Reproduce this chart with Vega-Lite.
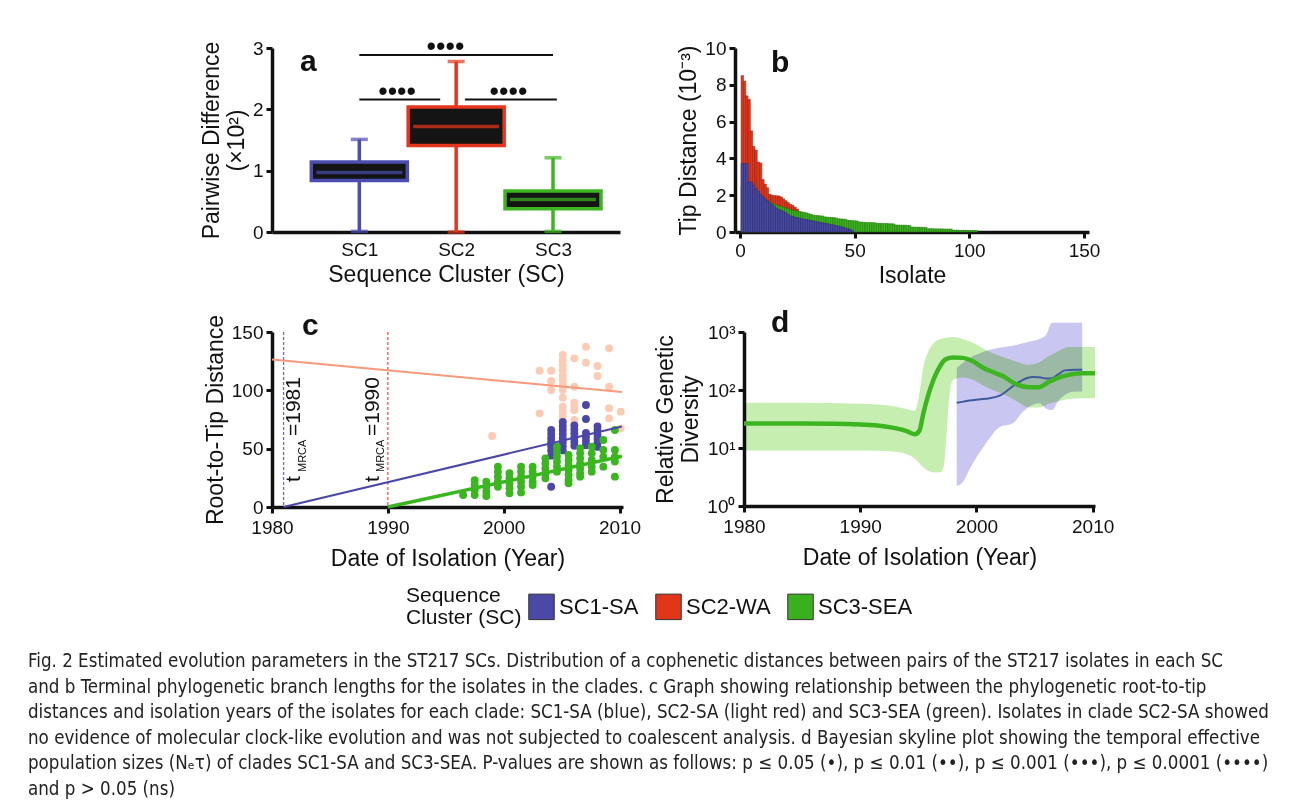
{
  "$schema": "https://vega.github.io/schema/vega-lite/v6.json",
  "background": "white",
  "padding": {"left": 28, "top": 33, "right": 5, "bottom": 5},
  "config": {
    "font": "Liberation Sans",
    "view": {"stroke": null},
    "axis": {"grid": false, "labelFlush": false, "domainColor": "#111", "domainWidth": 3.5, "tickColor": "#111", "tickWidth": 3, "tickSize": 6, "labelFont": "Liberation Sans", "labelFontSize": 19, "labelColor": "#111", "labelPadding": 3, "titleFont": "Liberation Sans", "titleFontSize": 23, "titleFontWeight": "normal", "titleColor": "#111", "titlePadding": 4},
    "title": {"font": "Liberation Sans", "fontWeight": "bold", "fontSize": 30, "color": "#111", "anchor": "start", "frame": "group", "offset": 0, "baseline": "alphabetic"}
  },
  "title": {
    "text": [
      "Fig. 2 Estimated evolution parameters in the ST217 SCs. Distribution of a cophenetic distances between pairs of the ST217 isolates in each SC",
      "and b Terminal phylogenetic branch lengths for the isolates in the clades. c Graph showing relationship between the phylogenetic root-to-tip",
      "distances and isolation years of the isolates for each clade: SC1-SA (blue), SC2-SA (light red) and SC3-SEA (green). Isolates in clade SC2-SA showed",
      "no evidence of molecular clock-like evolution and was not subjected to coalescent analysis. d Bayesian skyline plot showing the temporal effective",
      "population sizes (Nₑτ) of clades SC1-SA and SC3-SEA. P-values are shown as follows: p ≤ 0.05 (•), p ≤ 0.01 (••), p ≤ 0.001 (•••), p ≤ 0.0001 (••••)",
      "and p > 0.05 (ns)"
    ],
    "orient": "bottom", "anchor": "start", "frame": "group", "offset": 24, "dx": -244,
    "font": "Liberation Sans Narrow, DejaVu Sans Condensed, Liberation Sans", "fontSize": 18.6, "fontWeight": "normal", "color": "#222", "lineHeight": 25.6, "baseline": "top"
  },
  "datasets": {
    "boxes": [
      {"c": "SC1", "idx": 1, "min": 0.01, "q1": 0.84, "median": 0.97, "q3": 1.14, "max": 1.51},
      {"c": "SC2", "idx": 2, "min": 0.0, "q1": 1.41, "median": 1.72, "q3": 2.04, "max": 2.78},
      {"c": "SC3", "idx": 3, "min": 0.01, "q1": 0.38, "median": 0.53, "q3": 0.67, "max": 1.21}
    ],
    "sig": [
      {"from": 1, "to": 3, "lvl": 2.885, "mid": 1.89},
      {"from": 1, "to": 1.835, "lvl": 2.16, "mid": 1.39},
      {"from": 2.09, "to": 3.04, "lvl": 2.16, "mid": 2.54}
    ],
    "tip": [
      {"c":"SC2","i":1,"d":8.5},{"c":"SC2","i":2,"d":8.2},{"c":"SC2","i":3,"d":7.4},{"c":"SC2","i":4,"d":7.2},{"c":"SC2","i":5,"d":5.5},{"c":"SC2","i":6,"d":4.65},{"c":"SC2","i":7,"d":4.45},{"c":"SC2","i":8,"d":3.8},{"c":"SC2","i":9,"d":3.75},{"c":"SC2","i":10,"d":2.85},
      {"c":"SC2","i":11,"d":2.6},{"c":"SC2","i":12,"d":2.4},{"c":"SC2","i":13,"d":2.05},{"c":"SC2","i":14,"d":2.0},{"c":"SC2","i":15,"d":1.98},{"c":"SC2","i":16,"d":1.97},{"c":"SC2","i":17,"d":1.96},{"c":"SC2","i":18,"d":1.9},{"c":"SC2","i":19,"d":1.8},{"c":"SC2","i":20,"d":1.7},
      {"c":"SC2","i":21,"d":1.6},{"c":"SC2","i":22,"d":1.5},{"c":"SC2","i":23,"d":1.45},{"c":"SC2","i":24,"d":1.35},{"c":"SC2","i":25,"d":1.25},{"c":"SC2","i":26,"d":1.1},
      {"c":"SC3","i":1,"d":2.5},{"c":"SC3","i":2,"d":2.3},{"c":"SC3","i":3,"d":2.15},{"c":"SC3","i":4,"d":2.0},{"c":"SC3","i":5,"d":1.95},{"c":"SC3","i":6,"d":1.9},{"c":"SC3","i":7,"d":1.85},{"c":"SC3","i":8,"d":1.8},{"c":"SC3","i":9,"d":1.78},{"c":"SC3","i":10,"d":1.75},
      {"c":"SC3","i":11,"d":1.72},{"c":"SC3","i":12,"d":1.69},{"c":"SC3","i":13,"d":1.62},{"c":"SC3","i":14,"d":1.56},{"c":"SC3","i":15,"d":1.5},{"c":"SC3","i":16,"d":1.46},{"c":"SC3","i":17,"d":1.42},{"c":"SC3","i":18,"d":1.38},{"c":"SC3","i":19,"d":1.34},{"c":"SC3","i":20,"d":1.3},
      {"c":"SC3","i":21,"d":1.25},{"c":"SC3","i":22,"d":1.21},{"c":"SC3","i":23,"d":1.18},{"c":"SC3","i":24,"d":1.16},{"c":"SC3","i":25,"d":1.14},{"c":"SC3","i":26,"d":1.11},{"c":"SC3","i":27,"d":1.09},{"c":"SC3","i":28,"d":1.07},{"c":"SC3","i":29,"d":1.04},{"c":"SC3","i":30,"d":0.99},
      {"c":"SC3","i":31,"d":0.96},{"c":"SC3","i":32,"d":0.92},{"c":"SC3","i":33,"d":0.9},{"c":"SC3","i":34,"d":0.89},{"c":"SC3","i":35,"d":0.88},{"c":"SC3","i":36,"d":0.87},{"c":"SC3","i":37,"d":0.82},{"c":"SC3","i":38,"d":0.81},{"c":"SC3","i":39,"d":0.8},{"c":"SC3","i":40,"d":0.79},
      {"c":"SC3","i":41,"d":0.78},{"c":"SC3","i":42,"d":0.76},{"c":"SC3","i":43,"d":0.72},{"c":"SC3","i":44,"d":0.71},{"c":"SC3","i":45,"d":0.7},{"c":"SC3","i":46,"d":0.69},{"c":"SC3","i":47,"d":0.64},{"c":"SC3","i":48,"d":0.63},{"c":"SC3","i":49,"d":0.62},{"c":"SC3","i":50,"d":0.61},
      {"c":"SC3","i":51,"d":0.6},{"c":"SC3","i":52,"d":0.55},{"c":"SC3","i":53,"d":0.54},{"c":"SC3","i":54,"d":0.53},{"c":"SC3","i":55,"d":0.52},{"c":"SC3","i":56,"d":0.52},{"c":"SC3","i":57,"d":0.51},{"c":"SC3","i":58,"d":0.51},{"c":"SC3","i":59,"d":0.5},{"c":"SC3","i":60,"d":0.47},
      {"c":"SC3","i":61,"d":0.47},{"c":"SC3","i":62,"d":0.46},{"c":"SC3","i":63,"d":0.46},{"c":"SC3","i":64,"d":0.46},{"c":"SC3","i":65,"d":0.45},{"c":"SC3","i":66,"d":0.45},{"c":"SC3","i":67,"d":0.44},{"c":"SC3","i":68,"d":0.38},{"c":"SC3","i":69,"d":0.38},{"c":"SC3","i":70,"d":0.37},
      {"c":"SC3","i":71,"d":0.37},{"c":"SC3","i":72,"d":0.37},{"c":"SC3","i":73,"d":0.36},{"c":"SC3","i":74,"d":0.36},{"c":"SC3","i":75,"d":0.27},{"c":"SC3","i":76,"d":0.27},{"c":"SC3","i":77,"d":0.26},{"c":"SC3","i":78,"d":0.26},{"c":"SC3","i":79,"d":0.26},{"c":"SC3","i":80,"d":0.25},
      {"c":"SC3","i":81,"d":0.25},{"c":"SC3","i":82,"d":0.18},{"c":"SC3","i":83,"d":0.18},{"c":"SC3","i":84,"d":0.18},{"c":"SC3","i":85,"d":0.17},{"c":"SC3","i":86,"d":0.17},{"c":"SC3","i":87,"d":0.17},{"c":"SC3","i":88,"d":0.17},{"c":"SC3","i":89,"d":0.16},{"c":"SC3","i":90,"d":0.16},
      {"c":"SC3","i":91,"d":0.16},{"c":"SC3","i":92,"d":0.16},{"c":"SC3","i":93,"d":0.1},{"c":"SC3","i":94,"d":0.1},{"c":"SC3","i":95,"d":0.1},{"c":"SC3","i":96,"d":0.09},{"c":"SC3","i":97,"d":0.09},{"c":"SC3","i":98,"d":0.09},{"c":"SC3","i":99,"d":0.09},{"c":"SC3","i":100,"d":0.08},
      {"c":"SC3","i":101,"d":0.08},{"c":"SC3","i":102,"d":0.08},{"c":"SC3","i":103,"d":0.08},
      {"c":"SC1","i":1,"d":3.72},{"c":"SC1","i":2,"d":3.72},{"c":"SC1","i":3,"d":3.72},{"c":"SC1","i":4,"d":2.72},{"c":"SC1","i":5,"d":2.72},{"c":"SC1","i":6,"d":2.55},{"c":"SC1","i":7,"d":2.35},{"c":"SC1","i":8,"d":2.22},{"c":"SC1","i":9,"d":2.05},{"c":"SC1","i":10,"d":1.92},
      {"c":"SC1","i":11,"d":1.8},{"c":"SC1","i":12,"d":1.7},{"c":"SC1","i":13,"d":1.6},{"c":"SC1","i":14,"d":1.5},{"c":"SC1","i":15,"d":1.4},{"c":"SC1","i":16,"d":1.3},{"c":"SC1","i":17,"d":1.22},{"c":"SC1","i":18,"d":1.18},{"c":"SC1","i":19,"d":1.12},{"c":"SC1","i":20,"d":1.05},
      {"c":"SC1","i":21,"d":0.95},{"c":"SC1","i":22,"d":0.88},{"c":"SC1","i":23,"d":0.85},{"c":"SC1","i":24,"d":0.8},{"c":"SC1","i":25,"d":0.78},{"c":"SC1","i":26,"d":0.75},{"c":"SC1","i":27,"d":0.72},{"c":"SC1","i":28,"d":0.7},{"c":"SC1","i":29,"d":0.68},{"c":"SC1","i":30,"d":0.65},
      {"c":"SC1","i":31,"d":0.62},{"c":"SC1","i":32,"d":0.6},{"c":"SC1","i":33,"d":0.58},{"c":"SC1","i":34,"d":0.55},{"c":"SC1","i":35,"d":0.53},{"c":"SC1","i":36,"d":0.5},{"c":"SC1","i":37,"d":0.48},{"c":"SC1","i":38,"d":0.45},{"c":"SC1","i":39,"d":0.43},{"c":"SC1","i":40,"d":0.4},
      {"c":"SC1","i":41,"d":0.38},{"c":"SC1","i":42,"d":0.35},{"c":"SC1","i":43,"d":0.32},{"c":"SC1","i":44,"d":0.3},{"c":"SC1","i":45,"d":0.27},{"c":"SC1","i":46,"d":0.22},{"c":"SC1","i":47,"d":0.18},{"c":"SC1","i":48,"d":0.15},{"c":"SC1","i":49,"d":0.1}
    ],
    "rtt": [
      {"c":"SC2","yr":1999.0,"v":60.9},{"c":"SC2","yr":2003.1,"v":116.8},{"c":"SC2","yr":2003.1,"v":80.3},{"c":"SC2","yr":2004.1,"v":116.8},{"c":"SC2","yr":2004.1,"v":108},{"c":"SC2","yr":2004.1,"v":100.3},
      {"c":"SC2","yr":2005.1,"v":130.3},{"c":"SC2","yr":2005.1,"v":126},{"c":"SC2","yr":2005.1,"v":121.7},{"c":"SC2","yr":2005.1,"v":117.4},{"c":"SC2","yr":2005.1,"v":113},{"c":"SC2","yr":2005.1,"v":108.9},{"c":"SC2","yr":2005.1,"v":104.6},{"c":"SC2","yr":2005.1,"v":100.3},{"c":"SC2","yr":2005.1,"v":93.7},{"c":"SC2","yr":2005.1,"v":86},{"c":"SC2","yr":2005.1,"v":81.7},{"c":"SC2","yr":2005.1,"v":77.4},{"c":"SC2","yr":2005.1,"v":72.5},
      {"c":"SC2","yr":2006.1,"v":127.4},{"c":"SC2","yr":2006.1,"v":103.1},{"c":"SC2","yr":2006.1,"v":89.4},{"c":"SC2","yr":2006.1,"v":83.1},{"c":"SC2","yr":2006.1,"v":74.6},{"c":"SC2","yr":2006.1,"v":86.5},
      {"c":"SC2","yr":2007.1,"v":137.4},{"c":"SC2","yr":2007.1,"v":123.7},{"c":"SC2","yr":2008.1,"v":120.9},{"c":"SC2","yr":2008.1,"v":112.3},
      {"c":"SC2","yr":2009.1,"v":136},{"c":"SC2","yr":2009.1,"v":103.1},{"c":"SC2","yr":2009.1,"v":84.6},{"c":"SC2","yr":2009.1,"v":76},{"c":"SC2","yr":2010.1,"v":81.7},{"c":"SC2","yr":2010.1,"v":67.4},
      {"c":"SC1","yr":2004.1,"v":66},{"c":"SC1","yr":2004.1,"v":62.5},{"c":"SC1","yr":2004.1,"v":59},{"c":"SC1","yr":2004.1,"v":55.5},{"c":"SC1","yr":2004.1,"v":52},{"c":"SC1","yr":2004.1,"v":48.5},{"c":"SC1","yr":2004.1,"v":44},{"c":"SC1","yr":2004.1,"v":17.4},
      {"c":"SC1","yr":2005.1,"v":73},{"c":"SC1","yr":2005.1,"v":69.5},{"c":"SC1","yr":2005.1,"v":66},{"c":"SC1","yr":2005.1,"v":62.5},{"c":"SC1","yr":2005.1,"v":59},{"c":"SC1","yr":2005.1,"v":55.5},{"c":"SC1","yr":2005.1,"v":52},{"c":"SC1","yr":2005.1,"v":48.5},
      {"c":"SC1","yr":2006.1,"v":70},{"c":"SC1","yr":2006.1,"v":66.5},{"c":"SC1","yr":2006.1,"v":63},{"c":"SC1","yr":2006.1,"v":59.5},{"c":"SC1","yr":2006.1,"v":56},{"c":"SC1","yr":2006.1,"v":52.5},
      {"c":"SC1","yr":2007.1,"v":87.4},{"c":"SC1","yr":2007.1,"v":75.4},{"c":"SC1","yr":2007.1,"v":63.5},{"c":"SC1","yr":2007.1,"v":60},{"c":"SC1","yr":2007.1,"v":56.5},{"c":"SC1","yr":2007.1,"v":53},
      {"c":"SC1","yr":2008.1,"v":69},{"c":"SC1","yr":2008.1,"v":65.5},{"c":"SC1","yr":2008.1,"v":62},{"c":"SC1","yr":2008.1,"v":58.5},{"c":"SC1","yr":2008.1,"v":55},{"c":"SC1","yr":2008.1,"v":51.5},
      {"c":"SC3","yr":1996.5,"v":10.3},
      {"c":"SC3","yr":1997.5,"v":23},{"c":"SC3","yr":1997.5,"v":19},{"c":"SC3","yr":1997.5,"v":14.6},{"c":"SC3","yr":1997.5,"v":10.3},
      {"c":"SC3","yr":1998.5,"v":21.7},{"c":"SC3","yr":1998.5,"v":17.4},{"c":"SC3","yr":1998.5,"v":13},{"c":"SC3","yr":1998.5,"v":9.4},
      {"c":"SC3","yr":1999.5,"v":34.6},{"c":"SC3","yr":1999.5,"v":30.3},{"c":"SC3","yr":1999.5,"v":26},{"c":"SC3","yr":1999.5,"v":21.7},{"c":"SC3","yr":1999.5,"v":17.4},
      {"c":"SC3","yr":2000.5,"v":28.9},{"c":"SC3","yr":2000.5,"v":24.6},{"c":"SC3","yr":2000.5,"v":20.3},{"c":"SC3","yr":2000.5,"v":16},{"c":"SC3","yr":2000.5,"v":11.7},
      {"c":"SC3","yr":2001.5,"v":34.6},{"c":"SC3","yr":2001.5,"v":30.3},{"c":"SC3","yr":2001.5,"v":26},{"c":"SC3","yr":2001.5,"v":21.7},{"c":"SC3","yr":2001.5,"v":17.4},{"c":"SC3","yr":2001.5,"v":12.5},
      {"c":"SC3","yr":2002.5,"v":34.6},{"c":"SC3","yr":2002.5,"v":30.3},{"c":"SC3","yr":2002.5,"v":26},{"c":"SC3","yr":2002.5,"v":21.7},{"c":"SC3","yr":2002.5,"v":18.9},
      {"c":"SC3","yr":2003.6,"v":41.7},{"c":"SC3","yr":2003.6,"v":37.4},{"c":"SC3","yr":2003.6,"v":33.1},{"c":"SC3","yr":2003.6,"v":28.9},{"c":"SC3","yr":2003.6,"v":24.6},
      {"c":"SC3","yr":2004.6,"v":51.7},{"c":"SC3","yr":2004.6,"v":47.4},{"c":"SC3","yr":2004.6,"v":43.1},{"c":"SC3","yr":2004.6,"v":38.9},{"c":"SC3","yr":2004.6,"v":34.6},{"c":"SC3","yr":2004.6,"v":30.3},
      {"c":"SC3","yr":2005.6,"v":44.6},{"c":"SC3","yr":2005.6,"v":40.3},{"c":"SC3","yr":2005.6,"v":36},{"c":"SC3","yr":2005.6,"v":31.7},{"c":"SC3","yr":2005.6,"v":27.4},{"c":"SC3","yr":2005.6,"v":23.1},{"c":"SC3","yr":2005.6,"v":20.3},
      {"c":"SC3","yr":2006.6,"v":50.3},{"c":"SC3","yr":2006.6,"v":46},{"c":"SC3","yr":2006.6,"v":41.7},{"c":"SC3","yr":2006.6,"v":37.4},{"c":"SC3","yr":2006.6,"v":33.1},{"c":"SC3","yr":2006.6,"v":28.9},{"c":"SC3","yr":2006.6,"v":26},
      {"c":"SC3","yr":2007.6,"v":51.7},{"c":"SC3","yr":2007.6,"v":46},{"c":"SC3","yr":2007.6,"v":40.3},{"c":"SC3","yr":2007.6,"v":34.6},{"c":"SC3","yr":2007.6,"v":30.3},
      {"c":"SC3","yr":2008.6,"v":57.4},{"c":"SC3","yr":2008.6,"v":48.9},{"c":"SC3","yr":2008.6,"v":43.1},{"c":"SC3","yr":2008.6,"v":34.6},
      {"c":"SC3","yr":2009.6,"v":66},{"c":"SC3","yr":2009.6,"v":48.9},{"c":"SC3","yr":2009.6,"v":43.1},{"c":"SC3","yr":2009.6,"v":38.9},{"c":"SC3","yr":2009.6,"v":26}
    ],
    "fit": [
      {"c":"SC2","yr":1980,"v":126.5},{"c":"SC2","yr":2010.2,"v":98.5},
      {"c":"SC1","yr":1981,"v":0},{"c":"SC1","yr":2010.2,"v":69},
      {"c":"SC3","yr":1990,"v":0},{"c":"SC3","yr":2010.2,"v":43.5}
    ],
    "tmrca": [{"c":"SC1","yr":1981},{"c":"SC2","yr":1990}],
    "sky": [
      {"c":"SC3","yr":1980,"lo":9.1,"md":26.5,"hi":60.5},{"c":"SC3","yr":1985,"lo":9.1,"md":26.4,"hi":60},{"c":"SC3","yr":1990,"lo":9.1,"md":25.5,"hi":58},{"c":"SC3","yr":1991.5,"lo":9.0,"md":24.5,"hi":56},
      {"c":"SC3","yr":1993,"lo":8.6,"md":22,"hi":52},{"c":"SC3","yr":1994,"lo":7.8,"md":19.5,"hi":47},{"c":"SC3","yr":1994.7,"lo":6.5,"md":17.2,"hi":44},{"c":"SC3","yr":1995.1,"lo":5.4,"md":20,"hi":90},
      {"c":"SC3","yr":1995.4,"lo":4.7,"md":37,"hi":230},{"c":"SC3","yr":1995.8,"lo":4.1,"md":75,"hi":430},{"c":"SC3","yr":1996.3,"lo":3.8,"md":150,"hi":640},{"c":"SC3","yr":1996.9,"lo":3.8,"md":265,"hi":760},
      {"c":"SC3","yr":1997.2,"lo":5,"md":320,"hi":790},{"c":"SC3","yr":1997.45,"lo":20,"md":345,"hi":805},{"c":"SC3","yr":1997.7,"lo":90,"md":358,"hi":815},{"c":"SC3","yr":1998.0,"lo":150,"md":364,"hi":820},
      {"c":"SC3","yr":1998.8,"lo":165,"md":358,"hi":760},{"c":"SC3","yr":1999.7,"lo":150,"md":312,"hi":650},{"c":"SC3","yr":2000.6,"lo":120,"md":240,"hi":520},{"c":"SC3","yr":2001.4,"lo":100,"md":204,"hi":430},
      {"c":"SC3","yr":2002.3,"lo":85,"md":172,"hi":370},{"c":"SC3","yr":2003.4,"lo":65,"md":126,"hi":310},{"c":"SC3","yr":2004.5,"lo":50,"md":112,"hi":272},{"c":"SC3","yr":2005.4,"lo":50,"md":112,"hi":300},
      {"c":"SC3","yr":2006.2,"lo":58,"md":137,"hi":380},{"c":"SC3","yr":2006.8,"lo":62,"md":156,"hi":440},{"c":"SC3","yr":2008.0,"lo":70,"md":184,"hi":550},{"c":"SC3","yr":2009.1,"lo":72,"md":195,"hi":550},{"c":"SC3","yr":2010.2,"lo":72,"md":195,"hi":550},
      {"c":"SC1","yr":1998.3,"lo":2.2,"md":60.5,"hi":240},{"c":"SC1","yr":1998.9,"lo":2.7,"md":63,"hi":300},{"c":"SC1","yr":1999.4,"lo":4.3,"md":66,"hi":358},{"c":"SC1","yr":2000.3,"lo":8.5,"md":69,"hi":430},
      {"c":"SC1","yr":2001.1,"lo":14.5,"md":72,"hi":490},{"c":"SC1","yr":2002.0,"lo":23,"md":80,"hi":533},{"c":"SC1","yr":2003.1,"lo":26.5,"md":115,"hi":580},{"c":"SC1","yr":2004.0,"lo":42,"md":150,"hi":640},
      {"c":"SC1","yr":2004.8,"lo":55,"md":167,"hi":700},{"c":"SC1","yr":2005.4,"lo":59,"md":166,"hi":760},{"c":"SC1","yr":2006.0,"lo":48,"md":158,"hi":900},{"c":"SC1","yr":2006.5,"lo":45,"md":160,"hi":1450},
      {"c":"SC1","yr":2007.0,"lo":63,"md":184,"hi":1450},{"c":"SC1","yr":2007.6,"lo":82,"md":218,"hi":1450},{"c":"SC1","yr":2008.5,"lo":94,"md":224,"hi":1450},{"c":"SC1","yr":2009.1,"lo":94,"md":224,"hi":1450}
    ]
  },
  "resolve": {"scale": {"color": "independent", "stroke": "independent"}, "legend": {"color": "independent", "stroke": "independent"}},
  "spacing": 20,
  "vconcat": [
    {
      "spacing": 20,
      "resolve": {"scale": {"color": "independent", "stroke": "independent"}, "legend": {"color": "independent", "stroke": "independent"}},
      "vconcat": [
        {
          "spacing": 57,
          "resolve": {"scale": {"color": "independent", "stroke": "independent"}, "legend": {"color": "independent", "stroke": "independent"}},
          "hconcat": [
            {
              "width": 348, "height": 184,
              "title": {"text": "a", "dx": 28, "dy": 48},
              "layer": [
                {"data": {"name": "boxes"}, "mark": {"type": "rule", "strokeWidth": 3.5},
                 "encoding": {
                   "x": {"field": "idx", "type": "quantitative", "scale": {"domain": [0.15, 3.64], "nice": false, "zero": false}, "axis": {"values": [1, 2, 3], "ticks": false, "labelPadding": 8, "labelExpr": "datum.value == 1 ? 'SC1' : datum.value == 2 ? 'SC2' : 'SC3'", "title": "Sequence Cluster (SC)"}},
                   "y": {"field": "min", "type": "quantitative", "scale": {"domain": [0, 3], "nice": false}, "axis": {"values": [0, 1, 2, 3], "format": "d", "title": ["Pairwise Difference", "(×10²)"]}},
                   "y2": {"field": "max"},
                   "color": {"field": "c", "type": "nominal", "scale": {"domain": ["SC1", "SC2", "SC3"], "range": ["#4c4db0", "#e5371d", "#3cb521"]}, "legend": null}
                 }},
                {"data": {"name": "boxes"}, "mark": {"type": "tick", "orient": "horizontal", "size": 17, "thickness": 3.5},
                 "encoding": {"x": {"field": "idx", "type": "quantitative"}, "y": {"field": "max", "type": "quantitative"}, "color": {"field": "c", "type": "nominal", "legend": null}}},
                {"data": {"name": "boxes"}, "mark": {"type": "tick", "orient": "horizontal", "size": 17, "thickness": 3.5},
                 "encoding": {"x": {"field": "idx", "type": "quantitative"}, "y": {"field": "min", "type": "quantitative"}, "color": {"field": "c", "type": "nominal", "legend": null}}},
                {"data": {"name": "boxes"}, "mark": {"type": "bar", "width": 96, "fill": "#141414", "strokeWidth": 3.5},
                 "encoding": {"x": {"field": "idx", "type": "quantitative"}, "y": {"field": "q1", "type": "quantitative"}, "y2": {"field": "q3"},
                   "stroke": {"field": "c", "type": "nominal", "scale": {"domain": ["SC1", "SC2", "SC3"], "range": ["#4c4db0", "#e5371d", "#3cb521"]}, "legend": null}}},
                {"data": {"name": "boxes"}, "mark": {"type": "tick", "orient": "horizontal", "size": 86, "thickness": 3.5},
                 "encoding": {"x": {"field": "idx", "type": "quantitative"}, "y": {"field": "median", "type": "quantitative"}, "color": {"field": "c", "type": "nominal", "legend": null}}},
                {"data": {"name": "sig"}, "mark": {"type": "rule", "strokeWidth": 2, "color": "#111"},
                 "encoding": {"x": {"field": "from", "type": "quantitative"}, "x2": {"field": "to"}, "y": {"field": "lvl", "type": "quantitative"}}},
                {"data": {"name": "sig"}, "mark": {"type": "text", "text": "••••", "fontSize": 27, "color": "#111", "baseline": "middle", "dy": -8},
                 "encoding": {"x": {"field": "mid", "type": "quantitative"}, "y": {"field": "lvl", "type": "quantitative"}}}
              ]
            },
            {
              "width": 354, "height": 184,
              "title": {"text": "b", "dx": 36, "dy": 43},
              "data": {"name": "tip"},
              "mark": {"type": "bar", "width": 2.4, "strokeWidth": 0.5},
              "encoding": {
                "x": {"field": "i", "type": "quantitative", "scale": {"domain": [0, 150], "nice": false}, "axis": {"values": [0, 50, 100, 150], "title": "Isolate"}},
                "y": {"field": "d", "type": "quantitative", "stack": null, "scale": {"domain": [0, 10], "nice": false}, "axis": {"values": [0, 2, 4, 6, 8, 10], "title": "Tip Distance (10⁻³)"}},
                "color": {"field": "c", "type": "nominal", "scale": {"domain": ["SC1", "SC2", "SC3"], "range": ["#4a4aa6", "#e2361b", "#3ab51f"]}, "legend": null},
                "stroke": {"field": "c", "type": "nominal", "scale": {"domain": ["SC1", "SC2", "SC3"], "range": ["#2a2a66", "#8a1f0c", "#22700f"]}, "legend": null}
              }
            }
          ]
        },
        {
          "spacing": 13,
          "resolve": {"scale": {"color": "independent", "stroke": "independent"}, "legend": {"color": "independent", "stroke": "independent"}},
          "hconcat": [
            {
              "width": 351, "height": 175,
              "title": {"text": "c", "dx": 30, "dy": 31},
              "layer": [
                {"data": {"name": "tmrca"}, "transform": [{"filter": "datum.c == 'SC1'"}], "mark": {"type": "rule", "color": "#6b6bc6", "strokeWidth": 1.3, "strokeDash": [3, 2]},
                 "encoding": {"x": {"field": "yr", "type": "quantitative", "scale": {"domain": [1980, 2010.3], "nice": false, "zero": false}, "axis": {"values": [1980, 1990, 2000, 2010], "format": "d", "labelPadding": 5, "titlePadding": 10, "title": "Date of Isolation (Year)"}}}},
                {"data": {"name": "tmrca"}, "transform": [{"filter": "datum.c == 'SC2'"}], "mark": {"type": "rule", "color": "#e85a44", "strokeWidth": 1.3, "strokeDash": [3, 2]},
                 "encoding": {"x": {"field": "yr", "type": "quantitative"}}},
                {"data": {"name": "rtt"}, "mark": {"type": "circle", "size": 62, "opacity": 1},
                 "encoding": {
                   "x": {"field": "yr", "type": "quantitative"},
                   "y": {"field": "v", "type": "quantitative", "scale": {"domain": [0, 150], "nice": false}, "axis": {"values": [0, 50, 100, 150], "title": "Root-to-Tip Distance"}},
                   "color": {"field": "c", "type": "nominal", "scale": {"domain": ["SC1", "SC2", "SC3"], "range": ["#4b47a8", "#fdcab3", "#3bb520"]}, "legend": null}
                 }},
                {"data": {"name": "fit"}, "transform": [{"filter": "datum.c == 'SC2'"}], "mark": {"type": "line", "color": "#f8997b", "strokeWidth": 2},
                 "encoding": {"x": {"field": "yr", "type": "quantitative"}, "y": {"field": "v", "type": "quantitative"}}},
                {"data": {"name": "fit"}, "transform": [{"filter": "datum.c == 'SC1'"}], "mark": {"type": "line", "color": "#4b47a8", "strokeWidth": 2},
                 "encoding": {"x": {"field": "yr", "type": "quantitative"}, "y": {"field": "v", "type": "quantitative"}}},
                {"data": {"name": "fit"}, "transform": [{"filter": "datum.c == 'SC3'"}], "mark": {"type": "line", "color": "#3bb520", "strokeWidth": 3.5},
                 "encoding": {"x": {"field": "yr", "type": "quantitative"}, "y": {"field": "v", "type": "quantitative"}}},
                {"data": {"values": [{}]}, "mark": {"type": "text", "text": "t", "angle": 270, "align": "left", "baseline": "alphabetic", "fontSize": 21, "color": "#111"},
                 "encoding": {"x": {"datum": 1982.4, "type": "quantitative"}, "y": {"datum": 21.4, "type": "quantitative"}}},
                {"data": {"values": [{}]}, "mark": {"type": "text", "text": "MRCA", "angle": 270, "align": "left", "baseline": "alphabetic", "fontSize": 11, "color": "#111", "dx": 10, "dy": 6},
                 "encoding": {"x": {"datum": 1982.4, "type": "quantitative"}, "y": {"datum": 21.4, "type": "quantitative"}}},
                {"data": {"values": [{}]}, "mark": {"type": "text", "text": "=1981", "angle": 270, "align": "left", "baseline": "alphabetic", "fontSize": 21, "color": "#111", "dx": 46},
                 "encoding": {"x": {"datum": 1982.4, "type": "quantitative"}, "y": {"datum": 21.4, "type": "quantitative"}}},
                {"data": {"values": [{}]}, "mark": {"type": "text", "text": "t", "angle": 270, "align": "left", "baseline": "alphabetic", "fontSize": 21, "color": "#111"},
                 "encoding": {"x": {"datum": 1989.26, "type": "quantitative"}, "y": {"datum": 21.4, "type": "quantitative"}}},
                {"data": {"values": [{}]}, "mark": {"type": "text", "text": "MRCA", "angle": 270, "align": "left", "baseline": "alphabetic", "fontSize": 11, "color": "#111", "dx": 10, "dy": 5},
                 "encoding": {"x": {"datum": 1989.26, "type": "quantitative"}, "y": {"datum": 21.4, "type": "quantitative"}}},
                {"data": {"values": [{}]}, "mark": {"type": "text", "text": "=1990", "angle": 270, "align": "left", "baseline": "alphabetic", "fontSize": 21, "color": "#111", "dx": 46},
                 "encoding": {"x": {"datum": 1989.26, "type": "quantitative"}, "y": {"datum": 21.4, "type": "quantitative"}}}
              ]
            },
            {
              "width": 351, "height": 174,
              "title": {"text": "d", "dx": 27, "dy": 19},
              "layer": [
                {"data": {"name": "sky"}, "transform": [{"filter": "datum.c == 'SC1'"}], "mark": {"type": "area", "color": "#c9c6f1", "interpolate": "monotone", "clip": false},
                 "encoding": {
                   "x": {"field": "yr", "type": "quantitative", "scale": {"domain": [1980, 2010.2], "nice": false, "zero": false}, "axis": {"values": [1980, 1990, 2000, 2010], "format": "d", "labelPadding": 5, "titlePadding": 10, "title": "Date of Isolation (Year)"}},
                   "y": {"field": "lo", "type": "quantitative", "scale": {"type": "log", "domain": [1, 1000], "nice": false}, "axis": {"values": [1, 10, 100, 1000], "labelExpr": "datum.value == 1 ? '10⁰' : datum.value == 10 ? '10¹' : datum.value == 100 ? '10²' : '10³'", "title": ["Relative Genetic", "Diversity"]}},
                   "y2": {"field": "hi"}
                 }},
                {"data": {"name": "sky"}, "transform": [{"filter": "datum.c == 'SC3'"}], "mark": {"type": "area", "color": "#c6eeb0", "interpolate": "monotone", "blend": "multiply", "clip": false},
                 "encoding": {"x": {"field": "yr", "type": "quantitative"}, "y": {"field": "lo", "type": "quantitative"}, "y2": {"field": "hi"}}},
                {"data": {"name": "sky"}, "transform": [{"filter": "datum.c == 'SC1'"}], "mark": {"type": "line", "color": "#3d5b9c", "strokeWidth": 2, "interpolate": "monotone"},
                 "encoding": {"x": {"field": "yr", "type": "quantitative"}, "y": {"field": "md", "type": "quantitative"}}},
                {"data": {"name": "sky"}, "transform": [{"filter": "datum.c == 'SC3'"}], "mark": {"type": "line", "color": "#3cb521", "strokeWidth": 4.5, "interpolate": "monotone"},
                 "encoding": {"x": {"field": "yr", "type": "quantitative"}, "y": {"field": "md", "type": "quantitative"}}}
              ]
            }
          ]
        }
      ]
    },
    {
      "width": 900, "height": 1,
      "data": {"values": [{"c": "SC1-SA"}, {"c": "SC2-WA"}, {"c": "SC3-SEA"}]},
      "mark": {"type": "square", "opacity": 0},
      "encoding": {
        "color": {"field": "c", "type": "nominal", "scale": {"domain": ["SC1-SA", "SC2-WA", "SC3-SEA"], "range": ["#4b48a6", "#e2361b", "#3ab01f"]},
          "legend": {"orient": "none", "legendX": 134, "legendY": 0, "direction": "horizontal", "title": ["Sequence", "Cluster (SC)"], "titleOrient": "left", "titleFont": "Liberation Sans", "titleFontSize": 21, "titleFontWeight": "normal", "titleColor": "#111", "titleAlign": "left", "titlePadding": 6, "titleLineHeight": 22, "labelFont": "Liberation Sans", "labelFontSize": 22, "labelColor": "#111", "labelOffset": 4, "columnPadding": 14, "symbolType": "square", "symbolSize": 650, "symbolStrokeColor": "#333", "symbolStrokeWidth": 1, "symbolOpacity": 1}}
      }
    }
  ]
}
